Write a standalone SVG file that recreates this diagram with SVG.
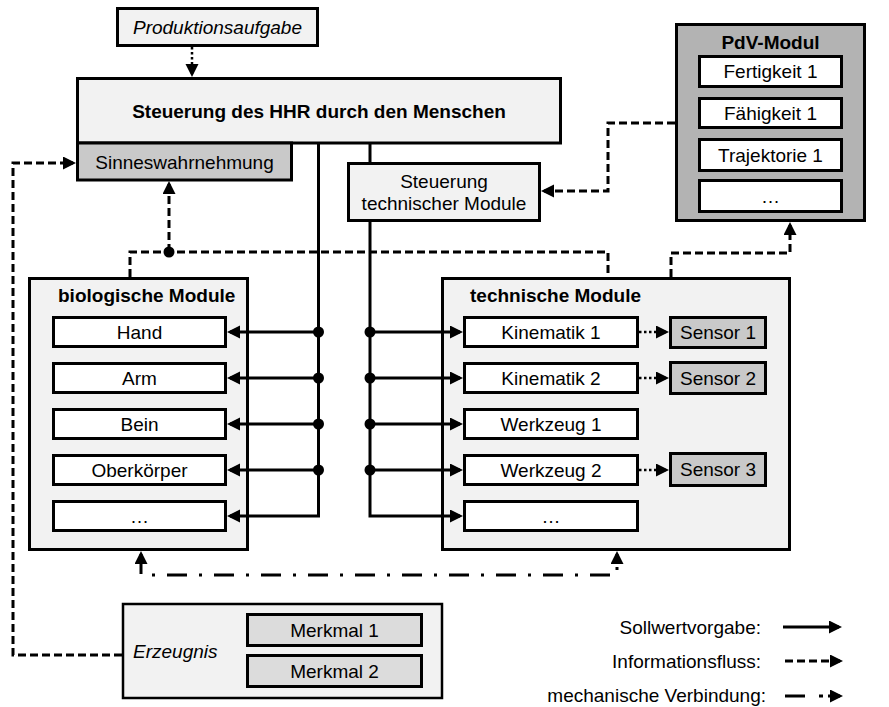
<svg xmlns="http://www.w3.org/2000/svg" width="889" height="707" viewBox="0 0 889 707">
<defs>
<style>
text{font-family:"Liberation Sans",Arial,sans-serif;font-size:19px;fill:#000}
.c{text-anchor:middle}
.e{text-anchor:end}
.b{font-weight:bold}
.i{font-style:italic}
.box{stroke:#000;stroke-width:3}
.lt{fill:#f2f2f2}
.wh{fill:#fff}
.md{fill:#c9c9c9}
.dk{fill:#b3b3b3}
.mk{fill:#dcdcdc}
.ln{fill:none;stroke:#000;stroke-width:3}
.da{stroke-dasharray:8 4}
.dt{stroke-dasharray:2.5 2.5;stroke-width:2.5}
.dd{stroke-dasharray:20 12 3 12}
.ar{marker-end:url(#ah)}
</style>
<marker id="ah" markerUnits="userSpaceOnUse" markerWidth="14" markerHeight="14" refX="10" refY="6.5" orient="auto-start-reverse"><path d="M0,0 L13,6.5 L0,13 Z" fill="#000"/></marker>
</defs>

<g id="produktionsaufgabe"><rect class="box lt" x="117.5" y="8.5" width="200" height="37"/><text class="c i" x="217.5" y="33.5">Produktionsaufgabe</text></g>
<g id="steuerung-mensch"><rect class="box lt" x="77.5" y="78.5" width="483" height="64.5"/><text class="c b" x="319" y="118">Steuerung des HHR durch den Menschen</text></g>
<g id="sinneswahrnehmung"><rect class="box md" x="77.5" y="143" width="214" height="37"/><text class="c" x="184.5" y="168.5">Sinneswahrnehmung</text></g>
<g id="steuerung-technisch"><rect class="box lt" x="348.5" y="163.5" width="191" height="57"/><text class="c" x="444" y="187.5">Steuerung</text><text class="c" x="444" y="209.5">technischer Module</text></g>

<g id="pdv-modul"><rect class="box dk" x="676.5" y="24.5" width="188" height="196"/><text class="c b" x="770.5" y="48.5">PdV-Modul</text>
<rect class="box wh" x="699.5" y="56.5" width="142" height="30"/><text class="c" x="770.5" y="78">Fertigkeit 1</text>
<rect class="box wh" x="699.5" y="98.5" width="142" height="29"/><text class="c" x="770.5" y="119.5">Fähigkeit 1</text>
<rect class="box wh" x="699.5" y="139.5" width="142" height="31"/><text class="c" x="770.5" y="161.5">Trajektorie 1</text>
<rect class="box wh" x="699.5" y="180.5" width="142" height="31"/><text class="c" x="770.5" y="202.5">…</text></g>

<g id="biologische-module"><rect class="box lt" x="29.5" y="278.5" width="218" height="271"/><text class="b" x="58" y="301.5">biologische Module</text>
<rect class="box wh" x="53.5" y="317.5" width="172" height="29"/><text class="c" x="139.5" y="338.5">Hand</text>
<rect class="box wh" x="53.5" y="363.5" width="172" height="29"/><text class="c" x="139.5" y="384.5">Arm</text>
<rect class="box wh" x="53.5" y="409.5" width="172" height="29"/><text class="c" x="139.5" y="430.5">Bein</text>
<rect class="box wh" x="53.5" y="455.5" width="172" height="29"/><text class="c" x="139.5" y="476.5">Oberkörper</text>
<rect class="box wh" x="53.5" y="501.5" width="172" height="29"/><text class="c" x="139.5" y="522.5">…</text></g>

<g id="technische-module"><rect class="box lt" x="442.5" y="278.5" width="347" height="271"/><text class="b" x="470" y="301.5">technische Module</text>
<rect class="box wh" x="464.5" y="317.5" width="173" height="29"/><text class="c" x="551" y="338.5">Kinematik 1</text>
<rect class="box wh" x="464.5" y="363.5" width="173" height="29"/><text class="c" x="551" y="384.5">Kinematik 2</text>
<rect class="box wh" x="464.5" y="409.5" width="173" height="29"/><text class="c" x="551" y="430.5">Werkzeug 1</text>
<rect class="box wh" x="464.5" y="455.5" width="173" height="29"/><text class="c" x="551" y="476.5">Werkzeug 2</text>
<rect class="box wh" x="464.5" y="501.5" width="173" height="29"/><text class="c" x="551" y="522.5">…</text></g>
<g id="sensor-1"><rect class="box md" x="670.5" y="317.5" width="95" height="30"/><text class="c" x="718" y="339">Sensor 1</text></g>
<g id="sensor-2"><rect class="box md" x="670.5" y="362.5" width="95" height="31"/><text class="c" x="718" y="384.5">Sensor 2</text></g>
<g id="sensor-3"><rect class="box md" x="670.5" y="453.5" width="95" height="32"/><text class="c" x="718" y="476">Sensor 3</text></g>

<g id="erzeugnis"><rect class="lt" x="123" y="604" width="319" height="94" stroke="#000" stroke-width="2.5"/><text class="i" x="133" y="657.5">Erzeugnis</text>
<rect class="box mk" x="247.5" y="614.5" width="174" height="31"/><text class="c" x="334.5" y="636.5">Merkmal 1</text>
<rect class="box mk" x="247.5" y="655.5" width="174" height="31"/><text class="c" x="334.5" y="677.5">Merkmal 2</text></g>

<g id="legende">
<text class="e" x="761" y="634">Sollwertvorgabe:</text>
<text class="e" x="761" y="667.5">Informationsfluss:</text>
<text class="e" x="766" y="702">mechanische Verbindung:</text>
<path class="ln ar" d="M783,627 H839"/>
<path class="ln da ar" d="M785,661 H840"/>
<path class="ln ar" d="M785,696 H805 M819,696 H823 M828,696 H840"/>
</g>

<g id="connectors">
<path class="ln dt ar" d="M192,47 V74"/>
<path class="ln da ar" d="M122,655 H13 V163 H73"/>
<path class="ln da" d="M130,277 V252 H608 V277"/>
<path class="ln da ar" d="M169,252 V184"/>
<circle cx="169" cy="252" r="5.5"/>
<path class="ln da ar" d="M671,277 V253 H790 V225"/>
<path class="ln da ar" d="M675,123 H608 V191 H544"/>
<path class="ln ar" d="M318.5,143 V516 H230"/>
<path class="ln ar" d="M318.5,332 H230"/>
<path class="ln ar" d="M318.5,378 H230"/>
<path class="ln ar" d="M318.5,424 H230"/>
<path class="ln ar" d="M318.5,470 H230"/>
<circle cx="318.5" cy="332" r="5.5"/><circle cx="318.5" cy="378" r="5.5"/><circle cx="318.5" cy="424" r="5.5"/><circle cx="318.5" cy="470" r="5.5"/>
<path class="ln" d="M370,143 V163"/>
<path class="ln ar" d="M370,221 V516 H460"/>
<path class="ln ar" d="M370,332 H460"/>
<path class="ln ar" d="M370,378 H460"/>
<path class="ln ar" d="M370,424 H460"/>
<path class="ln ar" d="M370,470 H460"/>
<circle cx="370" cy="332" r="5.5"/><circle cx="370" cy="378" r="5.5"/><circle cx="370" cy="424" r="5.5"/><circle cx="370" cy="470" r="5.5"/>
<path class="ln dt ar" d="M639,332 H666"/>
<path class="ln dt ar" d="M639,378 H666"/>
<path class="ln dt ar" d="M639,470 H666"/>
<path class="ln dd ar" style="marker-start:url(#ah)" d="M141,554 V575 H617 V554"/>
</g>
</svg>
